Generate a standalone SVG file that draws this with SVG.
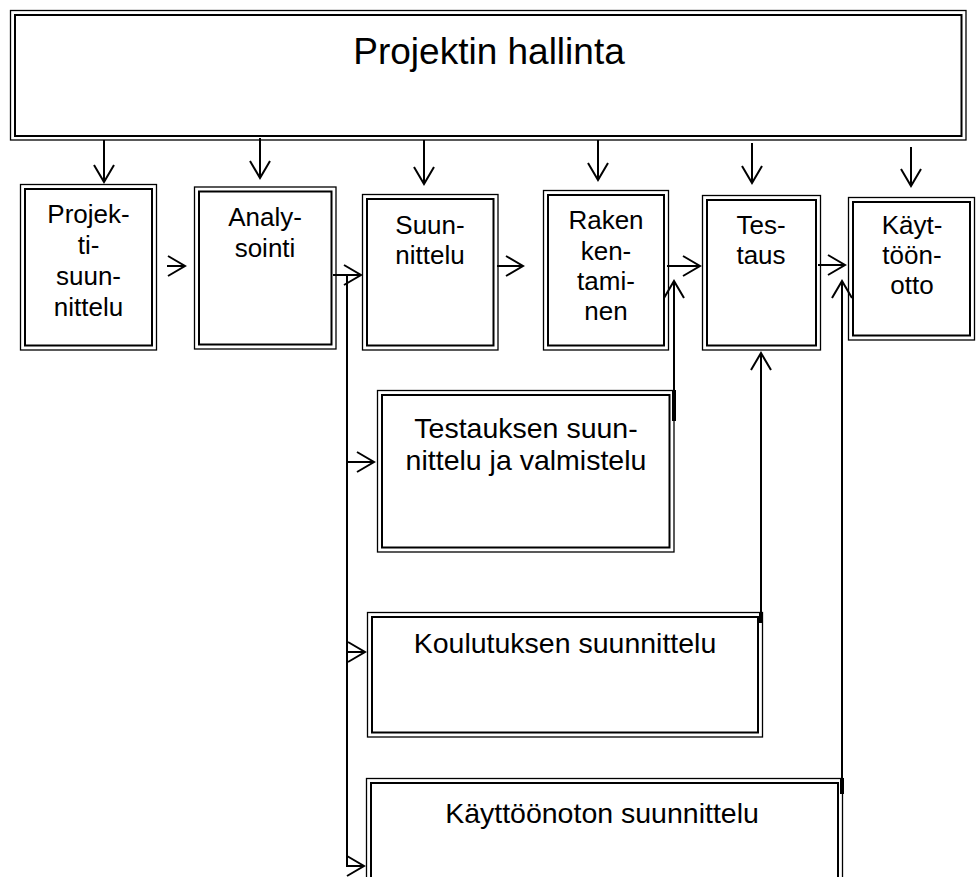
<svg xmlns="http://www.w3.org/2000/svg" width="976" height="877" viewBox="0 0 976 877">
  <style>
    .outer { fill: #fff; stroke: #000; stroke-width: 1.3; }
    .inner { fill: none; stroke: #000; stroke-width: 2; }
    .lbl { font-family: "Liberation Sans", Arial, sans-serif; font-size: 26px; fill: #000; text-anchor: middle; }
    .lbl2 { font-family: "Liberation Sans", Arial, sans-serif; font-size: 28.5px; fill: #000; text-anchor: middle; }
    .title { font-family: "Liberation Sans", Arial, sans-serif; font-size: 37px; fill: #000; text-anchor: middle; }
    .conn { fill: none; stroke: #000; stroke-width: 2; }
    .thick { fill: none; stroke: #000; stroke-width: 4; }
  </style>
  <defs>
    <marker id="arrow" markerUnits="userSpaceOnUse" viewBox="-20 -12 22 24" markerWidth="22" markerHeight="24" refX="0" refY="0" orient="auto" overflow="visible">
      <path d="M-17,-10 L0,0 L-17,10" fill="none" stroke="#000" stroke-width="2"/>
    </marker>
  </defs>
  <rect width="976" height="877" fill="#fff"/>

  <!-- management box -->
  <g id="projektin-hallinta">
    <rect class="outer" x="10.5" y="10.5" width="955.5" height="129.5"/>
    <rect class="inner" x="15" y="15" width="946.5" height="121"/>
    <text class="title" x="489" y="64">Projektin hallinta</text>
  </g>

  <!-- phase boxes -->
  <g id="projektisuunnittelu">
    <rect class="outer" x="20.5" y="184.5" width="136" height="165.5"/>
    <rect class="inner" x="25" y="189" width="127" height="156.5"/>
    <text class="lbl" x="88.5" y="223">Projek-</text>
    <text class="lbl" x="88.5" y="254">ti-</text>
    <text class="lbl" x="88.5" y="285">suun-</text>
    <text class="lbl" x="88.5" y="316">nittelu</text>
  </g>
  <g id="analysointi">
    <rect class="outer" x="194.5" y="187" width="141.5" height="162"/>
    <rect class="inner" x="199" y="191.5" width="132.5" height="153"/>
    <text class="lbl" x="265" y="226">Analy-</text>
    <text class="lbl" x="265" y="257">sointi</text>
  </g>
  <g id="suunnittelu">
    <rect class="outer" x="362.5" y="194.5" width="135.5" height="155.5"/>
    <rect class="inner" x="367" y="199" width="126.5" height="146.5"/>
    <text class="lbl" x="430" y="234">Suun-</text>
    <text class="lbl" x="430" y="264">nittelu</text>
  </g>
  <g id="rakentaminen">
    <rect class="outer" x="543.5" y="190.5" width="125" height="159.5"/>
    <rect class="inner" x="548" y="195" width="116" height="150.5"/>
    <text class="lbl" x="606" y="229">Raken</text>
    <text class="lbl" x="606" y="260">ken-</text>
    <text class="lbl" x="606" y="290">tami-</text>
    <text class="lbl" x="606" y="320">nen</text>
  </g>
  <g id="testaus">
    <rect class="outer" x="702.5" y="195.5" width="118" height="154.5"/>
    <rect class="inner" x="707" y="200" width="109" height="145.5"/>
    <text class="lbl" x="761" y="234">Tes-</text>
    <text class="lbl" x="761" y="264">taus</text>
  </g>
  <g id="kayttoonotto">
    <rect class="outer" x="848.5" y="197.5" width="126" height="142.5"/>
    <rect class="inner" x="853" y="202" width="117" height="133.5"/>
    <text class="lbl" x="912" y="234">Käyt-</text>
    <text class="lbl" x="912" y="264">töön-</text>
    <text class="lbl" x="912" y="294">otto</text>
  </g>

  <!-- planning boxes -->
  <g id="testauksen-suunnittelu">
    <rect class="outer" x="377.5" y="390.5" width="296.5" height="161.5"/>
    <rect class="inner" x="382" y="395" width="287.5" height="152.5"/>
    <text class="lbl2" x="526" y="438">Testauksen suun-</text>
    <text class="lbl2" x="526" y="470">nittelu ja valmistelu</text>
  </g>
  <g id="koulutuksen-suunnittelu">
    <rect class="outer" x="367.5" y="612.5" width="395" height="124.5"/>
    <rect class="inner" x="372" y="617" width="386" height="115.5"/>
    <text class="lbl2" x="565" y="653">Koulutuksen suunnittelu</text>
  </g>
  <g id="kayttoonoton-suunnittelu">
    <rect class="outer" x="366.5" y="778.5" width="476" height="120"/>
    <rect class="inner" x="371" y="783" width="467" height="120"/>
    <text class="lbl2" x="602" y="823">Käyttöönoton suunnittelu</text>
  </g>

  <!-- connectors -->
  <g id="connectors">
    <!-- from management to each phase -->
    <line class="conn" x1="104" y1="140" x2="104" y2="182" marker-end="url(#arrow)"/>
    <line class="conn" x1="260" y1="138" x2="260" y2="178" marker-end="url(#arrow)"/>
    <line class="conn" x1="424" y1="140" x2="424" y2="184" marker-end="url(#arrow)"/>
    <line class="conn" x1="598" y1="140" x2="598" y2="180" marker-end="url(#arrow)"/>
    <line class="conn" x1="752" y1="143" x2="752" y2="183" marker-end="url(#arrow)"/>
    <line class="conn" x1="911" y1="147" x2="911" y2="186" marker-end="url(#arrow)"/>

    <!-- phase sequence -->
    <line class="conn" x1="167" y1="266" x2="185" y2="266" marker-end="url(#arrow)"/>
    <line class="conn" x1="333" y1="275" x2="361" y2="275" marker-end="url(#arrow)"/>
    <line class="conn" x1="497" y1="266" x2="523" y2="266" marker-end="url(#arrow)"/>
    <line class="conn" x1="667" y1="266" x2="700" y2="266" marker-end="url(#arrow)"/>
    <line class="conn" x1="818" y1="265" x2="845" y2="265" marker-end="url(#arrow)"/>

    <!-- trunk from analysis to planning boxes -->
    <line class="conn" x1="347" y1="275" x2="347" y2="867"/>
    <line class="conn" x1="346" y1="462" x2="374" y2="462" marker-end="url(#arrow)"/>
    <line class="conn" x1="346" y1="652" x2="365" y2="652" marker-end="url(#arrow)"/>
    <line class="conn" x1="346" y1="866" x2="364" y2="866" marker-end="url(#arrow)"/>

    <!-- planning results feeding phases -->
    <line class="conn" x1="674" y1="420" x2="674" y2="281" marker-end="url(#arrow)"/>
    <line class="thick" x1="674" y1="390" x2="674" y2="421"/>
    <line class="conn" x1="761" y1="622" x2="761" y2="353" marker-end="url(#arrow)"/>
    <line class="thick" x1="761" y1="612" x2="761" y2="623"/>
    <line class="conn" x1="842" y1="793" x2="842" y2="281" marker-end="url(#arrow)"/>
    <line class="thick" x1="842" y1="778" x2="842" y2="794"/>
  </g>
</svg>
